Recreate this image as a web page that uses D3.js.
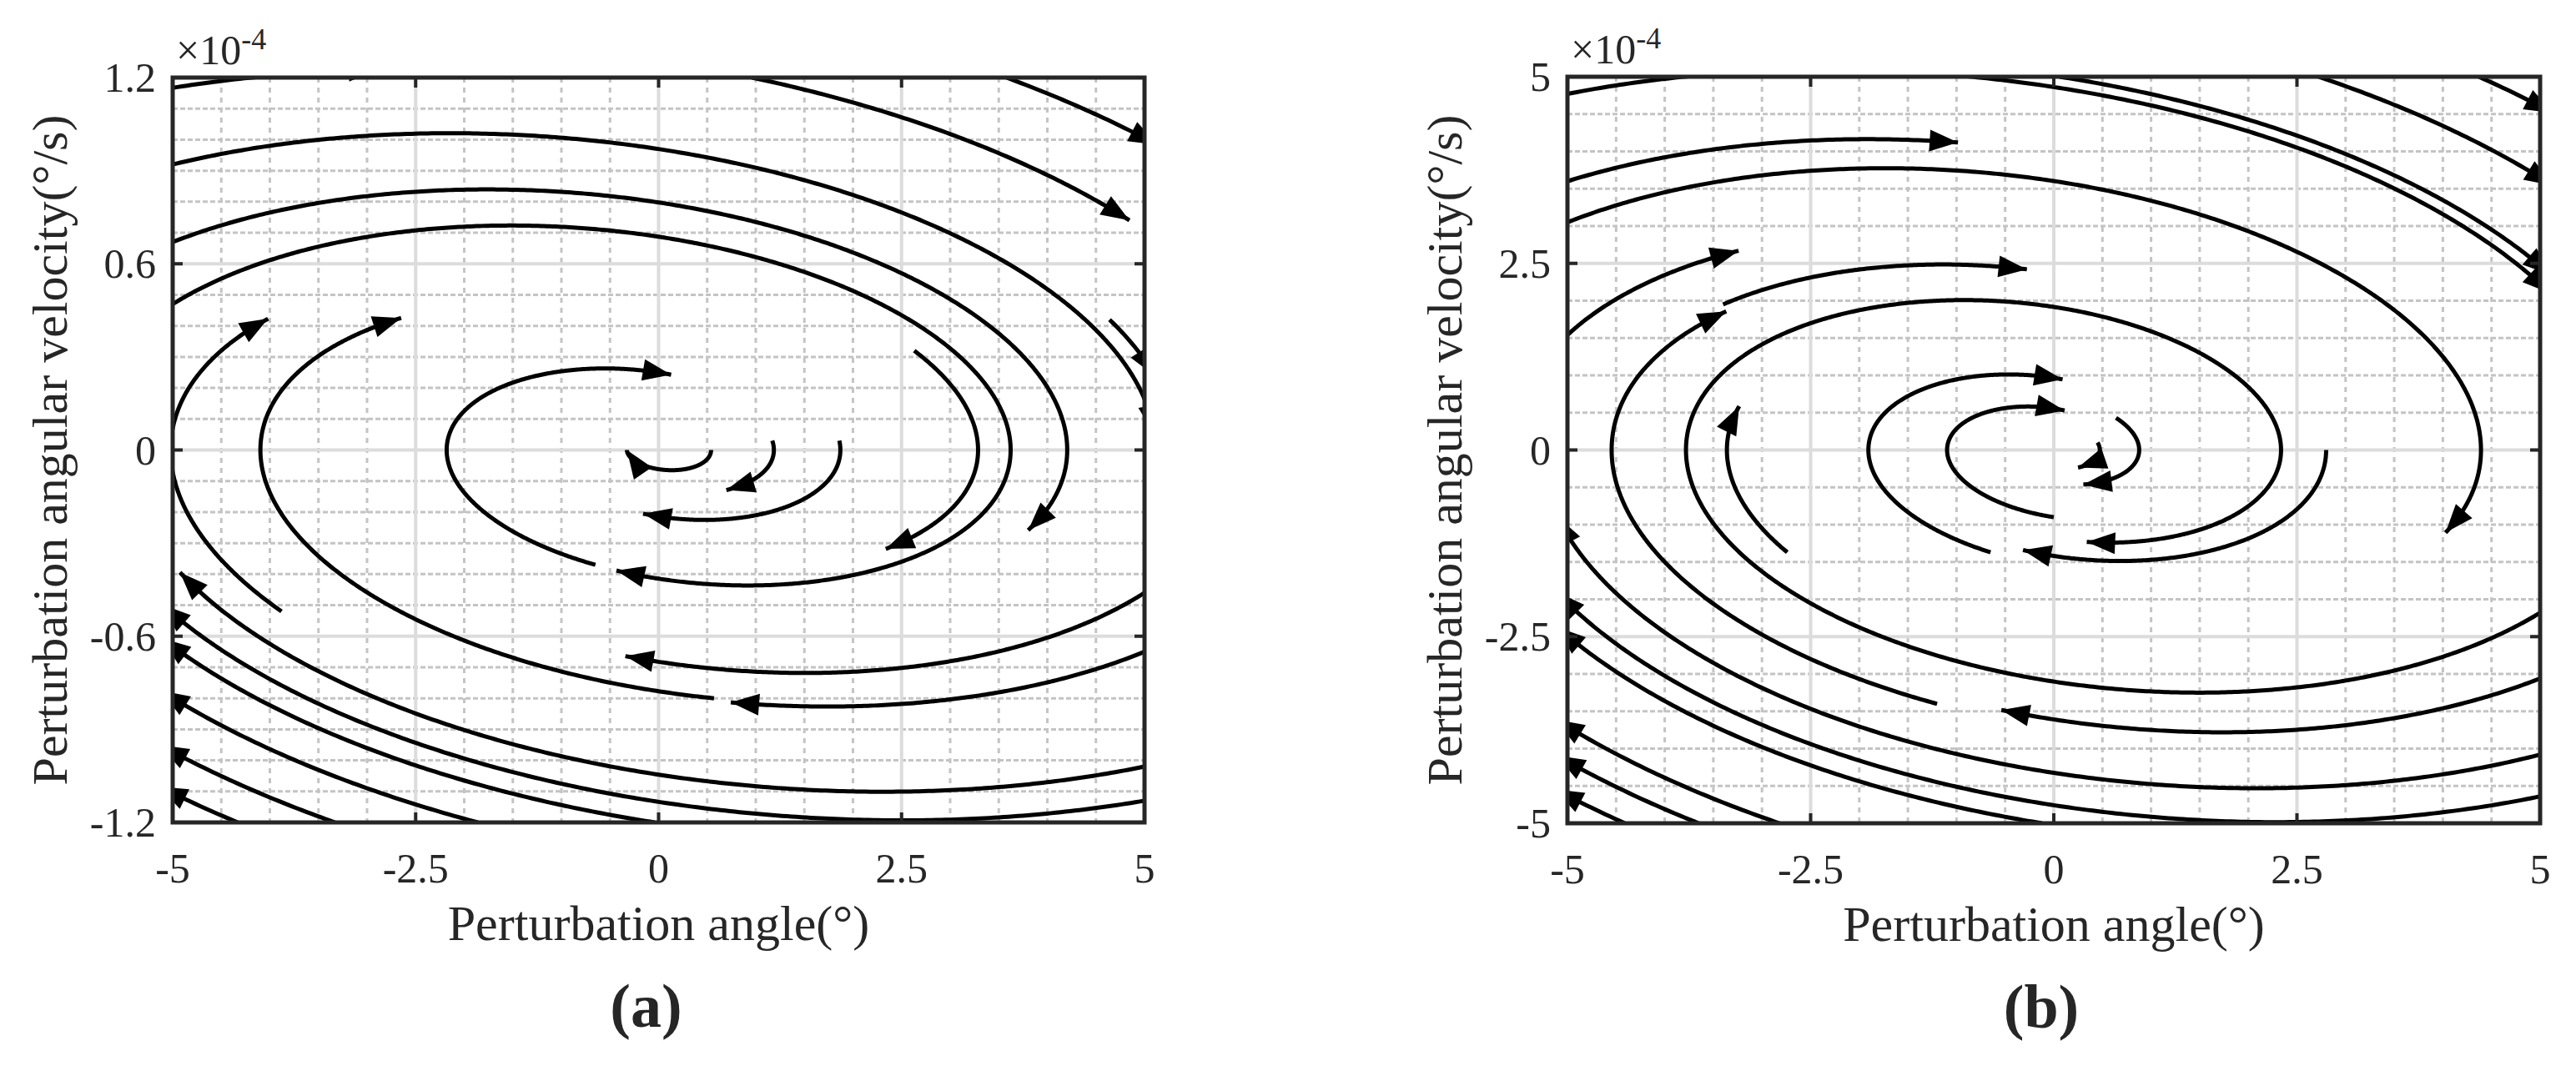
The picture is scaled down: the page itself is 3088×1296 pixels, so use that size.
<!DOCTYPE html>
<html><head><meta charset="utf-8">
<script src="https://cdn.jsdelivr.net/npm/d3@7"></script>
<style>body{margin:0;background:#fff}svg{display:block}text{font-family:"Liberation Serif","Times New Roman",serif;fill:#262626}</style>
</head><body><svg id="c" width="3088" height="1296"></svg>
<script>
// ---- data ----
const xTicks = [-5, -2.5, 0, 2.5, 5];
const yTicksA = [-1.2, -0.6, 0, 0.6, 1.2];
const yTicksB = [-5, -2.5, 0, 2.5, 5];
const yTickLabelsA = ["-1.2", "-0.6", "0", "0.6", "1.2"];
const yTickLabelsB = ["-5", "-2.5", "0", "2.5", "5"];
const xTickLabels = ["-5", "-2.5", "0", "2.5", "5"];
// system (normalized): x' = v, v' = -w^2 x - c v
const systemA = {w: 0.63, c: 0.2};
const systemB = {w: 0.66, c: 0.2};
// streamlines: [xStart, yStart, xEnd, yEnd] (angle deg, velocity in 1e-4 deg/s)
const streamsA = [
  [3.58, 1.2, 4.97, 0.95], [0.96, 1.2, 4.97, 0.77], [-5, 1.167, 4.97, 0.54],
  [-5, 0.92, 2.02, 0.44], [-5, 0.67, 5, -0.5], [-5, 0.47, -0.39, -0.35],
  [2.63, 0.32, 2.3, -0.30], [4.64, 0.42, 4.97, 0.27], [-3.88, -0.52, -3.99, 0.41],
  [0.57, -0.80, -2.5, 0.33], [-0.65, -0.37, 0.07, 0.19], [0.54, 0.0, -0.39, 0.0],
  [1.17, 0.03, 0.70, -0.13], [1.86, 0.03, -0.13, -0.18], [5, -0.46, -0.13, -0.46],
  [5, -0.65, 0.77, -0.73], [5, -1.13, 1.79, -1.11], [5, -1.02, -4.96, -0.40],
  [-4.33, -1.2, -4.96, -1.08], [-3.33, -1.2, -4.96, -0.91], [-0.04, -1.2, -3.37, -0.64],
  [-1.86, -1.2, -4.96, -0.67]
];
const streamsB = [
  [2.72, 5, 4.49, 4.2], [4.37, 5, 4.96, 4.45], [0.06, 5, 4.96, 2.05],
  [-5, 4.77, 5, -1.0], [-5, 3.6, -1.03, 3.5], [-5, 3.05, 5, -1.8], [-5, 1.54, -3.48, 2.16],
  [-3.4, 1.95, -0.32, 2.21], [-2.74, -1.37, -3.1, 0.52], [-0.65, -1.37, 0.15, 1.2],
  [0.64, 0.43, 0.30, -0.43], [0.45, 0.1, 0.24, -0.2], [0.0, -0.9, 0.15, 0.66], [-1.2, -3.4, -3.31, 1.75],
  [5, -2.18, 0.27, -2.04], [5, -3.06, -0.44, -3.08], [5, -4.64, 1.29, -4.63], [5, -4.08, -4.96, -2.02],
  [-4.41, -5, -4.96, -4.46], [-3.65, -5, -4.07, -4.63], [-2.82, -5, -4.96, -3.03],
  [-0.12, -5, -3.2, -2.9], [2.8, 0.0, -0.36, -1.46]
];
const panels = [
  {box:{l:207,r:1372,t:93,b:986}, ymax:1.2, yTicks:yTicksA, yLabels:yTickLabelsA, yMinor:0.1, sys:systemA, streams:streamsA, tag:"(a)"},
  {box:{l:1879,r:3045,t:92,b:987}, ymax:5, yTicks:yTicksB, yLabels:yTickLabelsB, yMinor:0.5, sys:systemB, streams:streamsB, tag:"(b)"}
];
const svg = d3.select("#c");
const defs = svg.append("defs");
panels.forEach((P, pi) => {
  const B = P.box;
  const x = d3.scaleLinear().domain([-5, 5]).range([B.l, B.r]);
  const y = d3.scaleLinear().domain([-P.ymax, P.ymax]).range([B.b, B.t]);
  const g = svg.append("g");
  defs.append("clipPath").attr("id", "clip" + pi).append("rect")
    .attr("x", B.l).attr("y", B.t).attr("width", B.r - B.l).attr("height", B.b - B.t);
  const xm = d3.range(-5, 5.001, 0.5).filter(v => Math.abs(v / 2.5 - Math.round(v / 2.5)) > 1e-6);
  const ym = d3.range(-P.ymax, P.ymax + 1e-9, P.yMinor).filter(v => !P.yTicks.some(t => Math.abs(t - v) < 1e-6));
  g.selectAll(".xm").data(xm).join("line").attr("x1", d => x(d)).attr("x2", d => x(d)).attr("y1", B.t).attr("y2", B.b)
    .attr("stroke", "#c4c4c4").attr("stroke-width", 3).attr("stroke-dasharray", "6,6");
  g.selectAll(".ym").data(ym).join("line").attr("y1", d => y(d)).attr("y2", d => y(d)).attr("x1", B.l).attr("x2", B.r)
    .attr("stroke", "#c4c4c4").attr("stroke-width", 3).attr("stroke-dasharray", "6,3");
  g.selectAll(".xg").data(xTicks).join("line").attr("x1", d => x(d)).attr("x2", d => x(d)).attr("y1", B.t).attr("y2", B.b)
    .attr("stroke", "#dcdcdc").attr("stroke-width", 4);
  g.selectAll(".yg").data(P.yTicks).join("line").attr("y1", d => y(d)).attr("y2", d => y(d)).attr("x1", B.l).attr("x2", B.r)
    .attr("stroke", "#dcdcdc").attr("stroke-width", 4);
  const {w, c} = P.sys;
  const f = (X, Y) => [Y, -w * w * X - c * Y];
  const sl = g.append("g").attr("clip-path", `url(#clip${pi})`);
  P.streams.forEach(s => {
    let X = s[0] / 5, Y = s[1] / P.ymax;
    const EX = s[2] / 5, EY = s[3] / P.ymax;
    const pts = [[X, Y]];
    const dt = 0.01;
    let best = Infinity, bestI = 0, found = -1;
    for (let i = 0; i < 6000; i++) {
      const k1 = f(X, Y), k2 = f(X + dt / 2 * k1[0], Y + dt / 2 * k1[1]);
      const k3 = f(X + dt / 2 * k2[0], Y + dt / 2 * k2[1]), k4 = f(X + dt * k3[0], Y + dt * k3[1]);
      X += dt / 6 * (k1[0] + 2 * k2[0] + 2 * k3[0] + k4[0]);
      Y += dt / 6 * (k1[1] + 2 * k2[1] + 2 * k3[1] + k4[1]);
      pts.push([X, Y]);
      if (Math.abs(X) > 1.02 || Math.abs(Y) > 1.02) { if (i > 5) { found = pts.length - 1; break; } }
      if (i < 80) continue;
      const d = Math.hypot(X - EX, Y - EY);
      if (d < best) { best = d; bestI = pts.length - 1; }
      if (best < 0.06 && d > best + 0.01) { found = bestI; break; }
      if (i > 1200 && found < 0) { found = bestI; break; }
    }
    if (found < 0) found = bestI;
    const path = pts.slice(0, found + 1).map(p => [x(p[0] * 5), y(p[1] * P.ymax)]);
    if (path.length < 3) return;
    sl.append("path").attr("d", d3.line()(path)).attr("fill", "none").attr("stroke", "#000").attr("stroke-width", 5);
    const e = path[path.length - 1];
    let j = path.length - 2;
    while (j > 0 && Math.hypot(e[0] - path[j][0], e[1] - path[j][1]) < 15) j--;
    const a = Math.atan2(e[1] - path[j][1], e[0] - path[j][0]) * 180 / Math.PI;
    sl.append("path").attr("d", "M0,0 L-34,-13 L-34,13 Z").attr("fill", "#000")
      .attr("transform", `translate(${e[0]},${e[1]}) rotate(${a})`);
  });
  g.append("rect").attr("x", B.l).attr("y", B.t).attr("width", B.r - B.l).attr("height", B.b - B.t)
    .attr("fill", "none").attr("stroke", "#262626").attr("stroke-width", 5);
  xTicks.forEach(t => {
    g.append("line").attr("x1", x(t)).attr("x2", x(t)).attr("y1", B.b).attr("y2", B.b - 12).attr("stroke", "#262626").attr("stroke-width", 4);
    g.append("line").attr("x1", x(t)).attr("x2", x(t)).attr("y1", B.t).attr("y2", B.t + 12).attr("stroke", "#262626").attr("stroke-width", 4);
  });
  P.yTicks.forEach(t => {
    g.append("line").attr("y1", y(t)).attr("y2", y(t)).attr("x1", B.l).attr("x2", B.l + 12).attr("stroke", "#262626").attr("stroke-width", 4);
    g.append("line").attr("y1", y(t)).attr("y2", y(t)).attr("x1", B.r).attr("x2", B.r - 12).attr("stroke", "#262626").attr("stroke-width", 4);
  });
  g.selectAll(".xl").data(xTicks).join("text").attr("x", d => x(d)).attr("y", B.b + 72)
    .attr("text-anchor", "middle").attr("font-size", 50).text((d, i) => xTickLabels[i]);
  g.selectAll(".yl").data(P.yTicks).join("text").attr("x", B.l - 20).attr("y", d => y(d) + 17)
    .attr("text-anchor", "end").attr("font-size", 50).text((d, i) => P.yLabels[i]);
  g.append("text").attr("x", (B.l + B.r) / 2).attr("y", B.b + 141).attr("text-anchor", "middle")
    .attr("font-size", 60).text("Perturbation angle(°)");
  g.append("text").attr("transform", `translate(${B.l - 127},${(B.t + B.b) / 2}) rotate(-90)`)
    .attr("text-anchor", "middle").attr("font-size", 60).text("Perturbation angular velocity(°/s)");
  const m = g.append("text").attr("x", B.l + 4).attr("y", B.t - 16).attr("font-size", 50);
  m.append("tspan").text("×10");
  m.append("tspan").attr("dy", -18).attr("font-size", 36).text("-4");
  g.append("text").attr("x", (B.l + B.r) / 2 - 15).attr("y", B.b + 245).attr("text-anchor", "middle")
    .attr("font-size", 74).attr("font-weight", "bold").text(P.tag);
});
</script></body></html>
